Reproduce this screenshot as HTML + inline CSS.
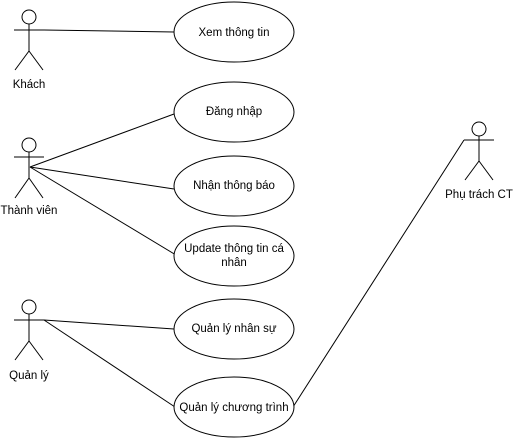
<!DOCTYPE html>
<html><head><meta charset="utf-8"><style>
html,body{margin:0;padding:0;background:#fff;}
svg{display:block;}
text{font-family:"Liberation Sans","DejaVu Sans",sans-serif;font-size:11.5px;fill:#000;}
</style></head><body>
<svg width="515" height="446" viewBox="0 0 515 446" xmlns="http://www.w3.org/2000/svg">
<g stroke="#000" stroke-width="1" fill="none">
<!-- actors -->
<g id="a1"><circle cx="29" cy="17" r="7" fill="#fff"/><line x1="29" y1="24" x2="29" y2="51"/><line x1="14" y1="30" x2="44" y2="30"/><line x1="29" y1="51" x2="15" y2="70"/><line x1="29" y1="51" x2="43" y2="70"/></g>
<g><circle cx="29" cy="145" r="7" fill="#fff"/><line x1="29" y1="152" x2="29" y2="178"/><line x1="14" y1="157" x2="44" y2="157"/><line x1="29" y1="178" x2="15" y2="198"/><line x1="29" y1="178" x2="43" y2="198"/></g>
<g><circle cx="29" cy="307" r="7" fill="#fff"/><line x1="29" y1="314" x2="29" y2="341"/><line x1="14" y1="320" x2="44" y2="320"/><line x1="29" y1="341" x2="15" y2="360"/><line x1="29" y1="341" x2="43" y2="360"/></g>
<g><circle cx="479" cy="129" r="7" fill="#fff"/><line x1="479" y1="136" x2="479" y2="161"/><line x1="464" y1="140" x2="494" y2="140"/><line x1="479" y1="161" x2="465" y2="180"/><line x1="479" y1="161" x2="493" y2="180"/></g>
<!-- lines -->
<line x1="44" y1="30" x2="174" y2="32"/>
<line x1="30" y1="167" x2="174" y2="114"/>
<line x1="30" y1="167" x2="174" y2="189"/>
<line x1="30" y1="167" x2="176" y2="255"/>
<line x1="44" y1="320" x2="174" y2="329"/>
<line x1="44" y1="320" x2="175" y2="407"/>
<line x1="464" y1="140" x2="293" y2="407"/>
<!-- ellipses -->
<ellipse cx="234" cy="32" rx="60" ry="30" fill="#fff"/>
<ellipse cx="234" cy="112" rx="60" ry="30" fill="#fff"/>
<ellipse cx="234" cy="186" rx="60" ry="30" fill="#fff"/>
<ellipse cx="234" cy="256" rx="60" ry="30" fill="#fff"/>
<ellipse cx="234" cy="329" rx="60" ry="30" fill="#fff"/>
<ellipse cx="234" cy="407" rx="60" ry="30" fill="#fff"/>
</g>
<g text-anchor="middle">
<text x="234" y="36">Xem thông tin</text>
<text x="234" y="115">Đăng nhập</text>
<text x="234" y="189">Nhận thông báo</text>
<text x="234" y="252">Update thông tin cá</text>
<text x="234" y="266">nhân</text>
<text x="234" y="332">Quản lý nhân sự</text>
<text x="234" y="411">Quản lý chương trình</text>
<text x="29" y="88">Khách</text>
<text x="29" y="214">Thành viên</text>
<text x="29" y="379">Quản lý</text>
<text x="479" y="198">Phụ trách CT</text>
</g>
</svg>
</body></html>
